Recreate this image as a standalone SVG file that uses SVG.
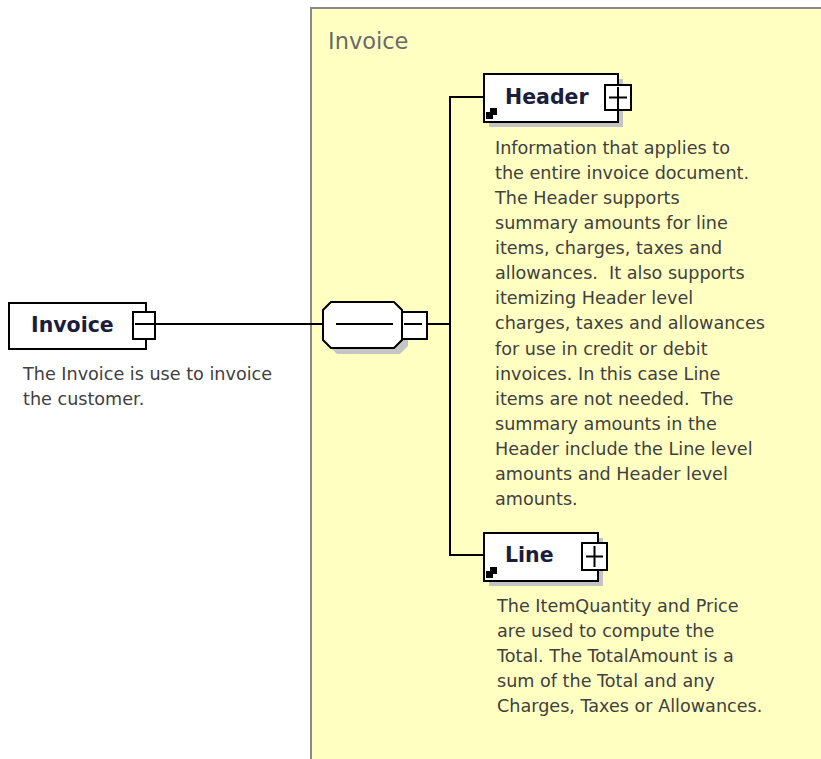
<svg xmlns="http://www.w3.org/2000/svg" width="821" height="759" viewBox="0 0 821 759">
<defs>
<style>
.box{fill:#fff;stroke:#000;stroke-width:2}
.shadow{fill:#c4c4c4}
.ln{stroke:#000;stroke-width:2;fill:none}
.title{font-family:"DejaVu Sans",Verdana,sans-serif;font-weight:bold;font-size:20.5px;fill:#1c1c3c}
.desc{font-family:"DejaVu Sans",Verdana,sans-serif;font-size:17.6px;fill:#404040}
.lbl{font-family:"DejaVu Sans",Verdana,sans-serif;font-size:22.5px;fill:#6a6a6a}
</style>
</defs>
<rect width="821" height="759" fill="#fff"/>
<g id="invoice-group">
<rect x="311" y="8" width="515" height="760" fill="#ffffc2" stroke="#8a8a8a" stroke-width="2"/>
<text class="lbl" x="328" y="49">Invoice</text>
</g>
<g id="connectors">
<line class="ln" x1="140" y1="324" x2="324" y2="324"/>
<line class="ln" x1="427" y1="324" x2="451" y2="324"/>
<line class="ln" x1="450" y1="96" x2="450" y2="556"/>
<line class="ln" x1="449" y1="97" x2="485" y2="97"/>
<line class="ln" x1="449" y1="555" x2="485" y2="555"/>
</g>
<g id="invoice">
<rect class="box" x="9" y="303" width="137" height="46"/>
<text class="title" x="31" y="332">Invoice</text>
<rect class="box" x="133" y="312" width="22" height="27"/>
<line class="ln" x1="135" y1="324" x2="155" y2="324"/>
<text class="desc" x="23" y="380">The Invoice is use to invoice</text>
<text class="desc" x="23" y="405">the customer.</text>
</g>
<g id="sequence">
<path class="shadow" d="M337,308 H400 L408,316 V346 L400,354 H337 L329,346 V316 Z"/>
<path class="box" d="M331,302 H394 L402,310 V340 L394,348 H331 L323,340 V310 Z"/>
<line class="ln" x1="336" y1="324" x2="393" y2="324"/>
<rect class="box" x="402" y="312" width="25" height="27"/>
<line class="ln" x1="404" y1="324" x2="422" y2="324"/>
</g>
<g id="header">
<rect class="shadow" x="489" y="79" width="134" height="48"/>
<rect class="box" x="484" y="74" width="134" height="48"/>
<path d="M486,119 V112 H490 V108 H497 V115 H493 V119 Z" fill="#000"/>
<text class="title" x="505" y="104">Header</text>
<rect class="box" x="605" y="85" width="26" height="25"/>
<line class="ln" x1="609" y1="97.5" x2="627" y2="97.5"/>
<line class="ln" x1="618" y1="87" x2="618" y2="110"/>
<text class="desc" x="495" y="154">Information that applies to</text>
<text class="desc" x="495" y="179">the entire invoice document.</text>
<text class="desc" x="495" y="204">The Header supports</text>
<text class="desc" x="495" y="229">summary amounts for line</text>
<text class="desc" x="495" y="254">items, charges, taxes and</text>
<text class="desc" x="495" y="279" xml:space="preserve">allowances.  It also supports</text>
<text class="desc" x="495" y="304">itemizing Header level</text>
<text class="desc" x="495" y="329">charges, taxes and allowances</text>
<text class="desc" x="495" y="355">for use in credit or debit</text>
<text class="desc" x="495" y="380">invoices. In this case Line</text>
<text class="desc" x="495" y="405" xml:space="preserve">items are not needed.  The</text>
<text class="desc" x="495" y="430">summary amounts in the</text>
<text class="desc" x="495" y="455">Header include the Line level</text>
<text class="desc" x="495" y="480">amounts and Header level</text>
<text class="desc" x="495" y="505">amounts.</text>
</g>
<g id="line">
<rect class="shadow" x="489" y="538" width="114" height="48"/>
<rect class="box" x="484" y="533" width="114" height="48"/>
<path d="M486,578 V571 H490 V567 H497 V574 H493 V578 Z" fill="#000"/>
<text class="title" x="505" y="562">Line</text>
<rect class="box" x="582" y="543" width="25" height="27"/>
<line class="ln" x1="586" y1="556.5" x2="603" y2="556.5"/>
<line class="ln" x1="594.5" y1="546" x2="594.5" y2="567"/>
<text class="desc" x="497" y="612">The ItemQuantity and Price</text>
<text class="desc" x="497" y="637">are used to compute the</text>
<text class="desc" x="497" y="662">Total. The TotalAmount is a</text>
<text class="desc" x="497" y="687">sum of the Total and any</text>
<text class="desc" x="497" y="712">Charges, Taxes or Allowances.</text>
</g>
</svg>
